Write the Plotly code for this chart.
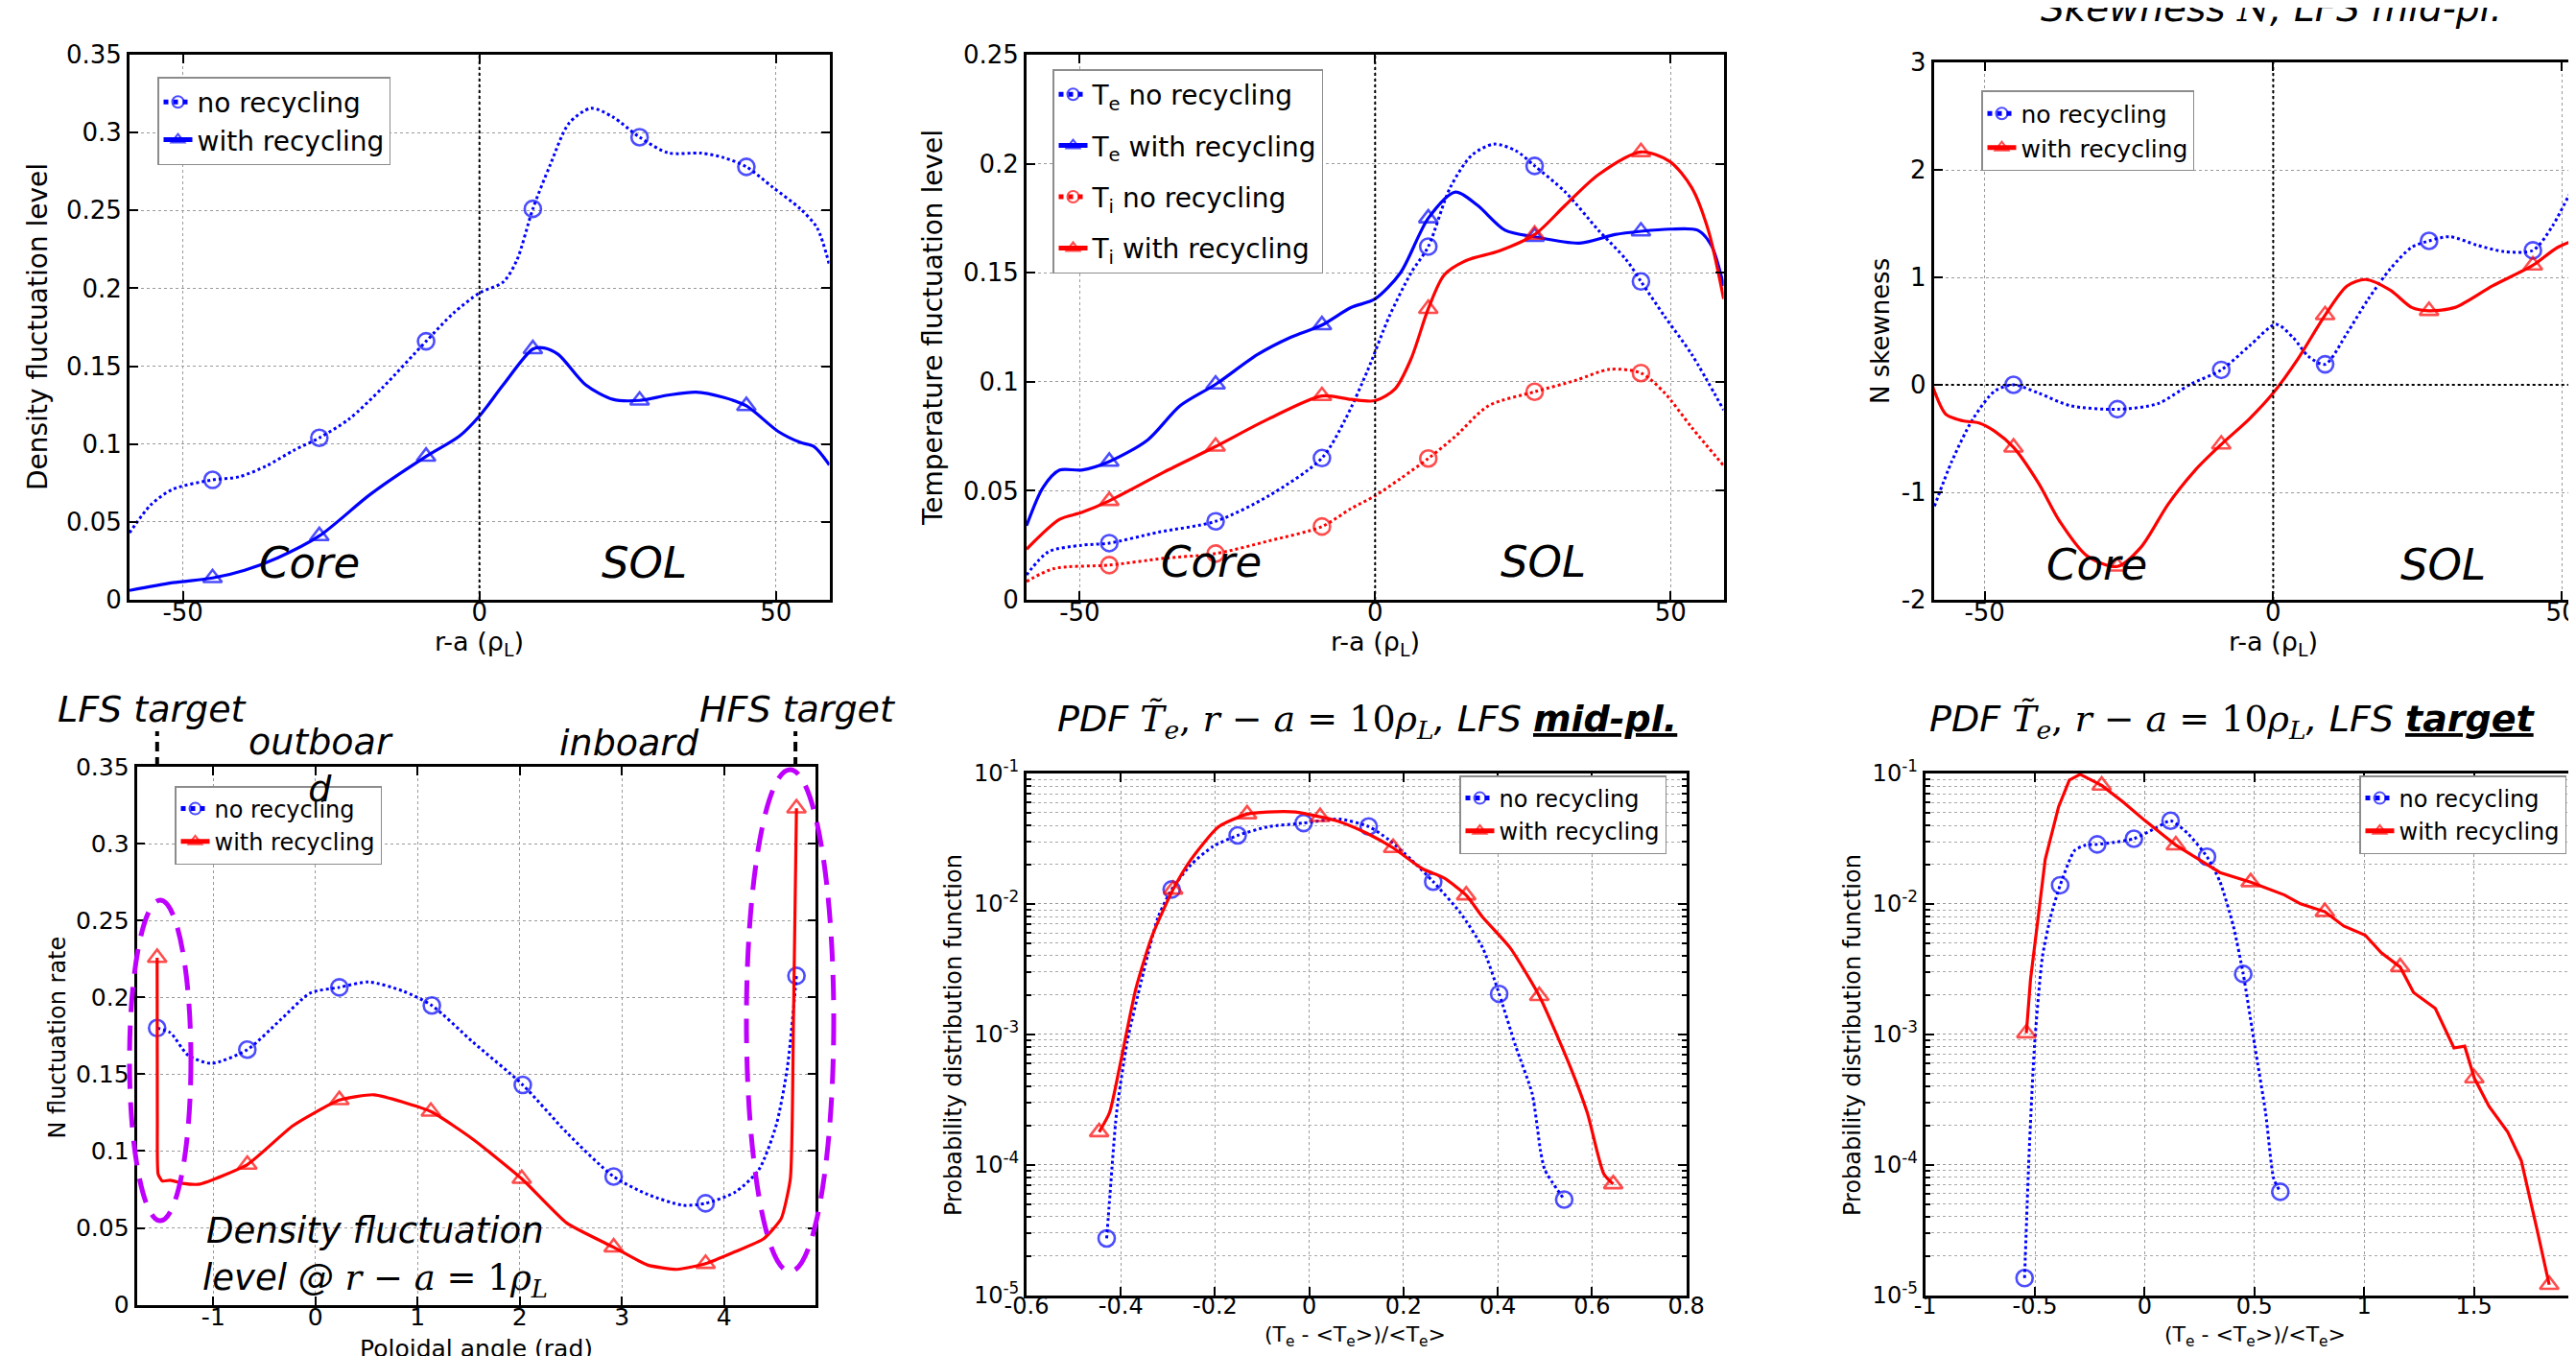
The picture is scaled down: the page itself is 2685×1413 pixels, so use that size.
import plotly.graph_objects as go

W, H = 2685, 1413

# ---------------- DATA ----------------
MARK_X_RA = [-45, -27, -9, 9, 27, 45]

# Panel 1: density fluctuation level vs r-a
p1_x_norec = [-59, -55.4, -51.7, -45, -40.5, -35.9, -31.3, -27, -22, -16.4, -9, -4.4, 0, 4, 6.3, 9, 11.9, 15.1, 18.8, 22.5, 27, 31.8, 37.4, 41.1, 45, 49.4, 54.1, 56.9, 59]
p1_y_norec = [0.043, 0.061, 0.071, 0.077, 0.079, 0.086, 0.096, 0.104, 0.116, 0.136, 0.166, 0.184, 0.197, 0.204, 0.218, 0.251, 0.279, 0.306, 0.3156, 0.310, 0.297, 0.287, 0.2868, 0.284, 0.278, 0.265, 0.251, 0.239, 0.215]
p1_x_rec = [-59, -51.7, -45, -39.6, -34, -27, -18.3, -9, -3.4, 0, 4, 9, 10.9, 13.3, 17.9, 22.5, 27, 31.8, 36.5, 41.1, 45, 50.4, 54.1, 56.4, 59]
p1_y_rec = [0.006, 0.011, 0.014, 0.019, 0.027, 0.041, 0.068, 0.092, 0.105, 0.118, 0.138, 0.161, 0.1617, 0.1575, 0.138, 0.1287, 0.128, 0.1314, 0.1333, 0.130, 0.1245, 0.108, 0.101, 0.0984, 0.0866]

# Panel 2: temperature fluctuation level
p2_x_te_norec = [-59, -55.3, -49.7, -45, -36.7, -27, -18, -9, -5, -1.3, 2.4, 6.1, 9, 12.7, 16.4, 20.1, 23.8, 27, 32.2, 37.8, 42.5, 45, 49, 53.6, 59]
p2_y_te_norec = [0.0114, 0.022, 0.025, 0.026, 0.031, 0.036, 0.0477, 0.065, 0.083, 0.105, 0.130, 0.150, 0.162, 0.189, 0.204, 0.209, 0.206, 0.199, 0.187, 0.1695, 0.156, 0.146, 0.130, 0.1125, 0.087]
p2_x_te_rec = [-59, -56.2, -53.4, -49.7, -45, -38.5, -33, -27, -19.9, -14.3, -9, -4.1, 0, 4.3, 9, 13.6, 17.3, 22, 27, 34.6, 40.6, 45, 49.9, 54.6, 56.9, 59]
p2_y_te_rec = [0.034, 0.0516, 0.0595, 0.0595, 0.0634, 0.0733, 0.089, 0.0988, 0.1125, 0.1204, 0.126, 0.134, 0.138, 0.150, 0.175, 0.187, 0.181, 0.1695, 0.1665, 0.1636, 0.1675, 0.169, 0.170, 0.1695, 0.1626, 0.144]
p2_x_ti_norec = [-59, -54.4, -45, -35.8, -27, -18, -9, -4.1, 0, 4.3, 9, 13.6, 19.2, 27, 34, 39.7, 45, 49, 53.6, 59]
p2_y_ti_norec = [0.0084, 0.0143, 0.0159, 0.019, 0.0212, 0.027, 0.0336, 0.0418, 0.0477, 0.0556, 0.0648, 0.075, 0.089, 0.0954, 0.1007, 0.1057, 0.104, 0.0949, 0.079, 0.0615]
p2_x_ti_rec = [-59, -53.4, -49.7, -45, -35.8, -27, -18, -9, -4.1, 0, 3.4, 6.1, 9, 11.7, 15.5, 21, 27, 32.2, 37.8, 45, 49.9, 53.6, 56.4, 59]
p2_y_ti_rec = [0.0232, 0.0369, 0.040, 0.0454, 0.0585, 0.0703, 0.083, 0.0935, 0.0919, 0.0913, 0.0968, 0.1106, 0.1335, 0.149, 0.1557, 0.160, 0.1675, 0.181, 0.195, 0.2054, 0.201, 0.189, 0.1695, 0.138]

# Panel 3: N skewness
p3_x_norec = [-58.7, -55.7, -52, -48.2, -45, -40.7, -35.1, -27, -20, -14.4, -9, -4.1, 0.5, 3.4, 6.2, 9, 12.8, 16.5, 20.3, 24, 27, 30.6, 35.3, 40, 45, 48.4, 51.2, 53.8]
p3_y_norec = [-1.13, -0.713, -0.315, -0.056, 0.0, -0.076, -0.195, -0.227, -0.175, 0.004, 0.139, 0.363, 0.562, 0.442, 0.26, 0.191, 0.482, 0.80, 1.08, 1.28, 1.339, 1.378, 1.30, 1.24, 1.251, 1.478, 1.757, 1.996]
p3_x_rec = [-59, -56.7, -53.8, -51, -48.2, -45, -40.7, -37, -32.3, -27, -22.9, -18.2, -13.5, -9, -4.1, 0, 4.3, 9, 12.8, 16, 20.3, 24, 27, 31.5, 38, 45, 49.3, 53.8]
p3_y_rec = [-0.016, -0.275, -0.335, -0.355, -0.434, -0.582, -0.912, -1.27, -1.59, -1.69, -1.51, -1.11, -0.793, -0.554, -0.315, -0.076, 0.243, 0.649, 0.92, 0.98, 0.88, 0.72, 0.689, 0.72, 0.92, 1.112, 1.279, 1.378]

# Panel 4: N fluctuation rate vs poloidal angle
p4_x_norec = [-1.55, -1.42, -1.25, -1.02, -0.667, -0.34, -0.05, 0.234, 0.52, 0.86, 1.14, 1.54, 2.03, 2.46, 2.92, 3.25, 3.6, 3.82, 4.11, 4.34, 4.51, 4.62, 4.71]
p4_y_norec = [0.18, 0.177, 0.1625, 0.157, 0.166, 0.1855, 0.2028, 0.2065, 0.21, 0.204, 0.1947, 0.171, 0.143, 0.112, 0.0834, 0.0719, 0.0647, 0.066, 0.0733, 0.0877, 0.1165, 0.154, 0.214]
p4_mx_norec = [-1.55, -0.667, 0.234, 1.14, 2.03, 2.92, 3.82, 4.71]
p4_x_rec = [-1.55, -1.548, -1.54, -1.5, -1.42, -1.3, -1.13, -0.667, -0.22, 0.234, 0.575, 1.13, 1.54, 2.02, 2.46, 2.92, 3.25, 3.54, 3.82, 4.11, 4.39, 4.56, 4.65, 4.68, 4.71]
p4_y_rec = [0.2258, 0.12, 0.085, 0.0805, 0.081, 0.079, 0.0785, 0.0912, 0.1165, 0.1332, 0.1366, 0.1257, 0.1078, 0.082, 0.0532, 0.0374, 0.0259, 0.023, 0.0267, 0.0345, 0.043, 0.056, 0.082, 0.1826, 0.323]
p4_mx_rec = [-1.55, -0.667, 0.234, 1.13, 2.02, 2.92, 3.82, 4.71]
LFS_TARGET, HFS_TARGET = -1.55, 4.70

# Panel 5: PDF at LFS mid-plane
p5_x_norec = [-0.43, -0.424, -0.409, -0.386, -0.356, -0.321, -0.292, -0.251, -0.205, -0.152, -0.088, -0.012, 0.064, 0.126, 0.169, 0.216, 0.263, 0.321, 0.368, 0.403, 0.438, 0.473, 0.491, 0.5, 0.541]
p5_y_norec = [2.72e-5, 5.25e-5, 2.5e-4, 8.9e-4, 2.6e-3, 7.9e-3, 0.0129, 0.020, 0.0275, 0.0335, 0.039, 0.0417, 0.0447, 0.0392, 0.031, 0.0219, 0.0148, 0.0085, 0.0046, 0.00204, 8.1e-4, 3.5e-4, 1.26e-4, 9.1e-5, 5.4e-5]
p5_mx_norec = [-0.43, -0.292, -0.152, -0.012, 0.126, 0.263, 0.403, 0.541]
p5_x_rec = [-0.446, -0.424, -0.403, -0.368, -0.333, -0.289, -0.251, -0.193, -0.132, -0.088, -0.029, 0.023, 0.064, 0.123, 0.178, 0.24, 0.286, 0.333, 0.368, 0.403, 0.427, 0.488, 0.555, 0.59, 0.625, 0.645]
p5_y_rec = [1.78e-4, 2.5e-4, 5.5e-4, 2.24e-3, 5.75e-3, 0.0129, 0.0219, 0.0389, 0.0488, 0.0507, 0.0507, 0.0465, 0.0427, 0.0347, 0.0269, 0.0186, 0.0158, 0.01164, 0.0079, 0.00575, 0.00457, 0.00197, 5.5e-4, 2.5e-4, 8.5e-5, 7.1e-5]
p5_mx_rec = [-0.446, -0.289, -0.132, 0.023, 0.178, 0.333, 0.488, 0.645]

# Panel 6: PDF at LFS target
p6_x_norec = [-0.547, -0.527, -0.502, -0.466, -0.429, -0.385, -0.319, -0.27, -0.216, -0.147, -0.049, 0.049, 0.118, 0.196, 0.284, 0.343, 0.404, 0.449, 0.502, 0.551, 0.588, 0.618]
p6_y_norec = [1.35e-5, 1.15e-4, 8.1e-4, 3.9e-3, 7.9e-3, 0.0139, 0.0257, 0.0282, 0.0286, 0.0295, 0.0316, 0.038, 0.0434, 0.0347, 0.023, 0.0148, 0.00676, 0.0029, 8.1e-4, 2.5e-4, 7.8e-5, 6.2e-5]
p6_mx_norec = [-0.547, -0.385, -0.216, -0.049, 0.118, 0.284, 0.449, 0.618]
p6_x_rec = [-0.539, -0.52, -0.49, -0.453, -0.392, -0.343, -0.294, -0.196, -0.098, 0, 0.142, 0.245, 0.343, 0.483, 0.588, 0.637, 0.71, 0.821, 0.907, 1.005, 1.078, 1.164, 1.225, 1.324, 1.409, 1.458, 1.502, 1.569, 1.654, 1.716, 1.789, 1.843]
p6_y_rec = [1.02e-3, 2.63e-3, 6.76e-3, 0.0219, 0.0556, 0.0891, 0.0984, 0.081, 0.0603, 0.0437, 0.0282, 0.0219, 0.0174, 0.0147, 0.0126, 0.0117, 0.0100, 0.0087, 0.00676, 0.00575, 0.00422, 0.00328, 0.00209, 0.00158, 7.85e-4, 8.1e-4, 4.6e-4, 2.8e-4, 1.78e-4, 1.07e-4, 3.1e-5, 1.2e-5]
p6_mx_rec = [-0.539, -0.196, 0.142, 0.483, 0.821, 1.164, 1.502, 1.843]

# tick labels
ra_ticks = [-50, 0, 50]
ra_ticktext = ["-50", "0", "50"]
p1_yticks = [0, 0.05, 0.1, 0.15, 0.2, 0.25, 0.3, 0.35]
p1_yticktext = ["0", "0.05", "0.1", "0.15", "0.2", "0.25", "0.3", "0.35"]
p2_yticks = [0, 0.05, 0.1, 0.15, 0.2, 0.25]
p2_yticktext = ["0", "0.05", "0.1", "0.15", "0.2", "0.25"]
p3_yticks = [-2, -1, 0, 1, 2, 3]
p3_yticktext = ["-2", "-1", "0", "1", "2", "3"]
p4_xticks = [-1, 0, 1, 2, 3, 4]
p4_xticktext = ["-1", "0", "1", "2", "3", "4"]
p5_xticks = [-0.6, -0.4, -0.2, 0, 0.2, 0.4, 0.6, 0.8]
p5_xticktext = ["-0.6", "-0.4", "-0.2", "0", "0.2", "0.4", "0.6", "0.8"]
p6_xticks = [-1, -0.5, 0, 0.5, 1, 1.5, 2]
p6_xticktext = ["-1", "-0.5", "0", "0.5", "1", "1.5", "2"]
log_ticks = [1e-5, 1e-4, 1e-3, 1e-2, 1e-1]
log_ticktext = ["10<sup>-5</sup>", "10<sup>-4</sup>", "10<sup>-3</sup>", "10<sup>-2</sup>", "10<sup>-1</sup>"]

BLUE, RED, PURPLE = "#0000FF", "#FF0000", "#BF00FF"
FONT = "DejaVu Sans"
MS = 17


def px(x):
    return x / W


def py(y):
    return 1 - y / H


def sizes(xs, mxs):
    return [MS if any(abs(x - m) < 1e-9 for m in mxs) else 0 for x in xs]


fig = go.Figure()
_grp = [0]


def series(x, y, mx, color, dot, symbol, name, ax, legend, shape="spline", smooth=0.8):
    _grp[0] += 1
    fig.add_trace(go.Scatter(
        x=x, y=y, mode="lines+markers", name=name, legendgroup="g%d" % _grp[0],
        line=dict(color=color, width=3.2 if not dot else 3.0, dash="dot" if dot else "solid",
                  shape=shape, smoothing=smooth if shape == "spline" else None),
        marker=dict(symbol=symbol, size=sizes(x, mx), color=color, line=dict(color=color, width=2.6)),
        xaxis="x" + ax, yaxis="y" + ax, legend=legend, cliponaxis=True))


# panel 1
series(p1_x_norec, p1_y_norec, MARK_X_RA, BLUE, True, "circle-open", "no recycling", "", "legend")
series(p1_x_rec, p1_y_rec, MARK_X_RA, BLUE, False, "triangle-up-open", "with recycling", "", "legend")
# panel 2
series(p2_x_te_norec, p2_y_te_norec, MARK_X_RA, BLUE, True, "circle-open", "T<sub>e</sub> no recycling", "2", "legend2")
series(p2_x_te_rec, p2_y_te_rec, MARK_X_RA, BLUE, False, "triangle-up-open", "T<sub>e</sub> with recycling", "2", "legend2")
series(p2_x_ti_norec, p2_y_ti_norec, MARK_X_RA, RED, True, "circle-open", "T<sub>i</sub> no recycling", "2", "legend2")
series(p2_x_ti_rec, p2_y_ti_rec, MARK_X_RA, RED, False, "triangle-up-open", "T<sub>i</sub> with recycling", "2", "legend2")
# panel 3
series(p3_x_norec, p3_y_norec, MARK_X_RA, BLUE, True, "circle-open", "no recycling", "3", "legend3")
series(p3_x_rec, p3_y_rec, MARK_X_RA, RED, False, "triangle-up-open", "with recycling", "3", "legend3")
# panel 4
series(p4_x_norec, p4_y_norec, p4_mx_norec, BLUE, True, "circle-open", "no recycling", "4", "legend4", smooth=0.7)
series(p4_x_rec, p4_y_rec, p4_mx_rec, RED, False, "triangle-up-open", "with recycling", "4", "legend4", smooth=0.5)
# panel 5
series(p5_x_norec, p5_y_norec, p5_mx_norec, BLUE, True, "circle-open", "no recycling", "5", "legend5", smooth=0.6)
series(p5_x_rec, p5_y_rec, p5_mx_rec, RED, False, "triangle-up-open", "with recycling", "5", "legend5", smooth=0.6)
# panel 6
series(p6_x_norec, p6_y_norec, p6_mx_norec, BLUE, True, "circle-open", "no recycling", "6", "legend6", smooth=0.6)
series(p6_x_rec, p6_y_rec, p6_mx_rec, RED, False, "triangle-up-open", "with recycling", "6", "legend6", shape="linear")

GRID = dict(showgrid=True, gridcolor="#9a9a9a", griddash="dot", gridwidth=1)


def axis(domain, anchor, tickvals, ticktext, rng, size=26, mirror="ticks", standoff=0, **kw):
    d = dict(domain=domain, anchor=anchor, range=rng, tickvals=tickvals, ticktext=ticktext,
             showline=True, linecolor="black", linewidth=2.8, mirror=mirror,
             ticks="inside", ticklen=9, tickwidth=2, tickcolor="black",
             zeroline=False, automargin=False, ticklabelstandoff=standoff,
             tickfont=dict(size=size, color="black", family=FONT), **GRID)
    d.update(kw)
    return d


TOP_Y = [py(617), py(49)]
P3_Y = [py(617), py(57)]
BOT_Y = [py(1341.5), py(798)]
P4_Y = [py(1351.6), py(791)]
XS = -12

minor_log = dict(tickvals=[m * 10.0 ** e for e in range(-5, -1) for m in range(2, 10)],
                 ticks="inside", ticklen=5, tickcolor="black", showgrid=True,
                 gridcolor="#a8a8a8", griddash="dot", gridwidth=1)

fig.update_layout(
    xaxis=axis([px(127), px(856.5)], "y", ra_ticks, ra_ticktext, [-59, 59], standoff=XS),
    yaxis=axis(TOP_Y, "x", p1_yticks, p1_yticktext, [0, 0.35]),
    xaxis2=axis([px(1062), px(1788.6)], "y2", ra_ticks, ra_ticktext, [-59, 59], standoff=XS),
    yaxis2=axis(TOP_Y, "x2", p2_yticks, p2_yticktext, [0, 0.25]),
    xaxis3=axis([px(2007.7), 1.0], "y3", ra_ticks, ra_ticktext, [-58.8, 53.8], standoff=XS),
    yaxis3=axis(P3_Y, "x3", p3_yticks, p3_yticktext, [-2, 3], mirror=False),
    xaxis4=axis([px(134.5), px(842.4)], "y4", p4_xticks, p4_xticktext, [-1.75, 4.9], size=25, standoff=XS),
    yaxis4=axis(P4_Y, "x4", p1_yticks, p1_yticktext, [0, 0.35], size=25),
    xaxis5=axis([px(1062), px(1749.6)], "y5", p5_xticks, p5_xticktext, [-0.6, 0.8], size=24, standoff=XS),
    yaxis5=axis(BOT_Y, "x5", log_ticks, log_ticktext, [-5, -1], size=24, type="log", minor=minor_log),
    xaxis6=axis([px(1998.6), 1.0], "y6", p6_xticks, p6_xticktext, [-1, 2.0], size=24, standoff=XS),
    yaxis6=axis(BOT_Y, "x6", log_ticks, log_ticktext, [-5, -1], size=24, type="log", minor=minor_log, mirror=False),
)


def leg(x, y, size, gap=0):
    return dict(x=px(x), y=py(y), xanchor="left", yanchor="top", bgcolor="white",
                bordercolor="#8c8c8c", borderwidth=1.5, itemsizing="constant",
                font=dict(size=size, color="black", family=FONT), tracegroupgap=gap)


fig.update_layout(
    legend=leg(156, 72, 28), legend2=leg(1089, 64, 28, gap=14), legend3=leg(2057, 86, 25),
    legend4=leg(174, 811, 24), legend5=leg(1513, 800, 24), legend6=leg(2451, 800, 24),
)

# reference lines
for ax in ["", "2", "3"]:
    fig.add_shape(type="line", xref="x" + ax, yref="y" + ax + " domain", x0=0, x1=0, y0=0, y1=1,
                  line=dict(color="black", width=2, dash="dot"), layer="above")
fig.add_shape(type="line", xref="x3 domain", yref="y3", x0=0, x1=1, y0=0, y1=0,
              line=dict(color="black", width=2, dash="dot"), layer="above")

# target markers above panel 4
for t in [LFS_TARGET, HFS_TARGET]:
    fig.add_shape(type="line", xref="x4", yref="paper", x0=t, x1=t, y0=py(791), y1=py(754),
                  line=dict(color="black", width=4, dash="10px,6px"))

# magenta dashed ellipses
for (x0, x1, y0, y1) in [(127, 191, 930, 1264), (770, 861, 794, 1317)]:
    fig.add_shape(type="circle", xref="paper", yref="paper", x0=px(x0), x1=px(x1), y0=py(y1), y1=py(y0),
                  line=dict(color=PURPLE, width=5, dash="26px,14px"), layer="above")

ann = []


def text(x, y, s, size, angle=0, xref="paper", yref="paper", data=False):
    ann.append(dict(x=x if data else px(x), y=y if data else py(y), xref=xref, yref=yref, text=s,
                    showarrow=False, textangle=angle, xanchor="center", yanchor="middle",
                    font=dict(size=size, color="black", family=FONT)))


RA = "r-a (ρ<sub>L</sub>)"
text(32, 333, "Density fluctuation level", 28, -90)
text(491, 662, RA, 27)
text(964, 334, "Temperature fluctuation level", 28, -90)
text(1425, 662, RA, 27)
text(1952, 337, "N skewness", 26, -90)
text(2361, 662, RA, 27)
text(2359, 1, "<i>Skewness </i><span style=\"font-family:'DejaVu Serif'\"><i>N</i></span><i>, LFS mid-pl.</i>", 39)

for ax, (cx, sx, cy) in {"": (-28.6, 27.8, 0.024), "2": (-27.8, 28.5, 0.0173), "3": (-30.6, 29.5, -1.67)}.items():
    text(cx, cy, "<i>Core</i>", 45, xref="x" + ax, yref="y" + ax, data=True)
    text(sx, cy, "<i>SOL</i>", 45, xref="x" + ax, yref="y" + ax, data=True)

text(51.5, 1073, "N fluctuation rate", 24, -90)
text(488, 1397, "Poloidal angle (rad)", 25)
text(151, 731, "<i>LFS target</i>", 38)
text(823, 731, "<i>HFS target</i>", 38)
text(326, 790, "<i>outboar<br>d</i>", 38)
text(648, 766, "<i>inboard</i>", 38)
text(383, 1274, "<i>Density fluctuation</i>", 37)
text(383, 1326, "<i>level @ </i><span style=\"font-family:'DejaVu Serif'\"><i>r</i> − <i>a</i> = 1<i>ρ<sub>L</sub></i></span>", 37)

XT = "(T<sub>e</sub> - &lt;T<sub>e</sub>&gt;)/&lt;T<sub>e</sub>&gt;"
text(986, 1071, "Probability distribution function", 24, -90)
text(1405, 1384, XT, 22)
text(1923, 1071, "Probability distribution function", 24, -90)
text(2342, 1384, XT, 22)

MATH = "<span style=\"font-family:'DejaVu Serif'\"><i>T̃<sub>e</sub></i>, <i>r</i> − <i>a</i> = 10<i>ρ<sub>L</sub></i></span>"
text(1417, 743, "<i>PDF </i>" + MATH + "<i>, LFS <b><u>mid-pl.</u></b></i>", 38)
text(2319, 743, "<i>PDF </i>" + MATH + "<i>, LFS <b><u>target</u></b></i>", 38)

fig.update_layout(
    annotations=ann, width=W, height=H, margin=dict(l=0, r=0, t=0, b=0),
    paper_bgcolor="white", plot_bgcolor="white", template="none",
    font=dict(family=FONT, color="black"),
)

fig.write_html("out.html")
